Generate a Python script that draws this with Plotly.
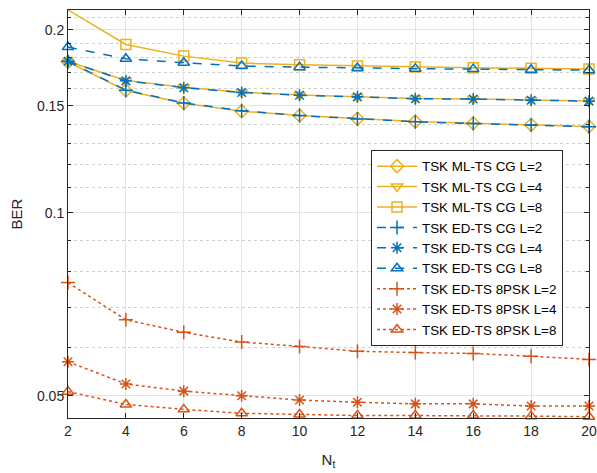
import plotly.graph_objects as go

nt = [2, 4, 6, 8, 10, 12, 14, 16, 18, 20]

ml_l2 = [0.1772, 0.1590, 0.1515, 0.1470, 0.1446, 0.1428, 0.1413, 0.1404, 0.1396, 0.1387]
ml_l4 = [0.1774, 0.1651, 0.1609, 0.1580, 0.1563, 0.1553, 0.1543, 0.1540, 0.1533, 0.1528]
ml_l8 = [0.2157, 0.1893, 0.1811, 0.1764, 0.1752, 0.1745, 0.1738, 0.1733, 0.1729, 0.1725]
ed_l2 = [0.1775, 0.1592, 0.1517, 0.1472, 0.1446, 0.1427, 0.1412, 0.1403, 0.1395, 0.1386]
ed_l4 = [0.1776, 0.1649, 0.1607, 0.1578, 0.1562, 0.1552, 0.1541, 0.1539, 0.1532, 0.1527]
ed_l8 = [0.1874, 0.1793, 0.1766, 0.1744, 0.1737, 0.1731, 0.1727, 0.1724, 0.1720, 0.1717]
psk_l2 = [0.0768, 0.0667, 0.0636, 0.0613, 0.0603, 0.0592, 0.0589, 0.0587, 0.0581, 0.0574]
psk_l4 = [0.0569, 0.0523, 0.0509, 0.0500, 0.0492, 0.0488, 0.0485, 0.0485, 0.0481, 0.0481]
psk_l8 = [0.0508, 0.0484, 0.0475, 0.0468, 0.0466, 0.0464, 0.0464, 0.0464, 0.0463, 0.0462]

y_ticks = [0.05, 0.1, 0.15, 0.2]
y_tick_text = ["0.05", "0.1", "0.15", "0.2"]
y_minor = [0.05, 0.06, 0.07, 0.08, 0.09, 0.11, 0.12, 0.13, 0.14, 0.16, 0.17, 0.18, 0.19, 0.21]

YEL = "#EDB120"
BLU = "#0072BD"
ORA = "#D95319"

series = [
    ("TSK ML-TS CG L=2", ml_l2, YEL, "solid", "diamond-open"),
    ("TSK ML-TS CG L=4", ml_l4, YEL, "solid", "triangle-down-open"),
    ("TSK ML-TS CG L=8", ml_l8, YEL, "solid", "square-open"),
    ("TSK ED-TS CG L=2", ed_l2, BLU, "dash", "cross-thin-open"),
    ("TSK ED-TS CG L=4", ed_l4, BLU, "dash", "asterisk-open"),
    ("TSK ED-TS CG L=8", ed_l8, BLU, "dash", "triangle-up-open"),
    ("TSK ED-TS 8PSK L=2", psk_l2, ORA, "dot", "cross-thin-open"),
    ("TSK ED-TS 8PSK L=4", psk_l4, ORA, "dot", "asterisk-open"),
    ("TSK ED-TS 8PSK L=8", psk_l8, ORA, "dot", "triangle-up-open"),
]

fig = go.Figure()
for name, vals, col, dash, sym in series:
    fig.add_trace(go.Scatter(
        x=nt, y=vals, name=name, mode="lines+markers",
        line=dict(color=col, width=1.5, dash=dash),
        marker=dict(symbol=sym, size=10, color=col, line=dict(color=col, width=1.5)),
        cliponaxis=False,
    ))

axcol = "#262626"
fig.update_layout(
    width=597, height=473,
    margin=dict(l=68, r=8, t=10, b=55, autoexpand=False),
    paper_bgcolor="white", plot_bgcolor="white",
    font=dict(family="Liberation Sans, Arial, sans-serif", size=14, color=axcol),
    showlegend=True,
    legend=dict(
        x=0.5816, y=0.657, xanchor="left", yanchor="top",
        bgcolor="white", bordercolor=axcol, borderwidth=1,
        font=dict(size=13.4, color="#000000"),
        tracegroupgap=0, itemwidth=40,
    ),
)
fig.update_xaxes(
    range=[2, 20], tickvals=nt, ticks="inside", ticklen=5, tickcolor=axcol,
    showline=True, linecolor=axcol, linewidth=1, mirror="allticks",
    showgrid=True, gridcolor="#e3e3e3", gridwidth=1, zeroline=False,
    automargin=False, ticklabeloverflow="allow",
    title=dict(text="N<sub>t</sub>", font=dict(size=15), standoff=16),
)
fig.update_yaxes(
    type="log", range=[-1.3375, -0.6662],
    tickvals=y_ticks, ticktext=y_tick_text, ticks="inside", ticklen=5, tickcolor=axcol,
    showline=True, linecolor=axcol, linewidth=1, mirror="allticks",
    showgrid=True, gridcolor="#e3e3e3", gridwidth=1, zeroline=False,
    automargin=False,
    minor=dict(tickvals=y_minor, ticks="inside", ticklen=3, tickcolor=axcol,
               showgrid=True, gridcolor="#d0d0d0", griddash="dot", gridwidth=1),
    title=dict(text="BER", font=dict(size=15), standoff=10),
)

fig.write_html(
    "out.html",
    config={"displayModeBar": False},
    post_script="document.body.style.margin='0';document.body.style.overflow='hidden';",
)
